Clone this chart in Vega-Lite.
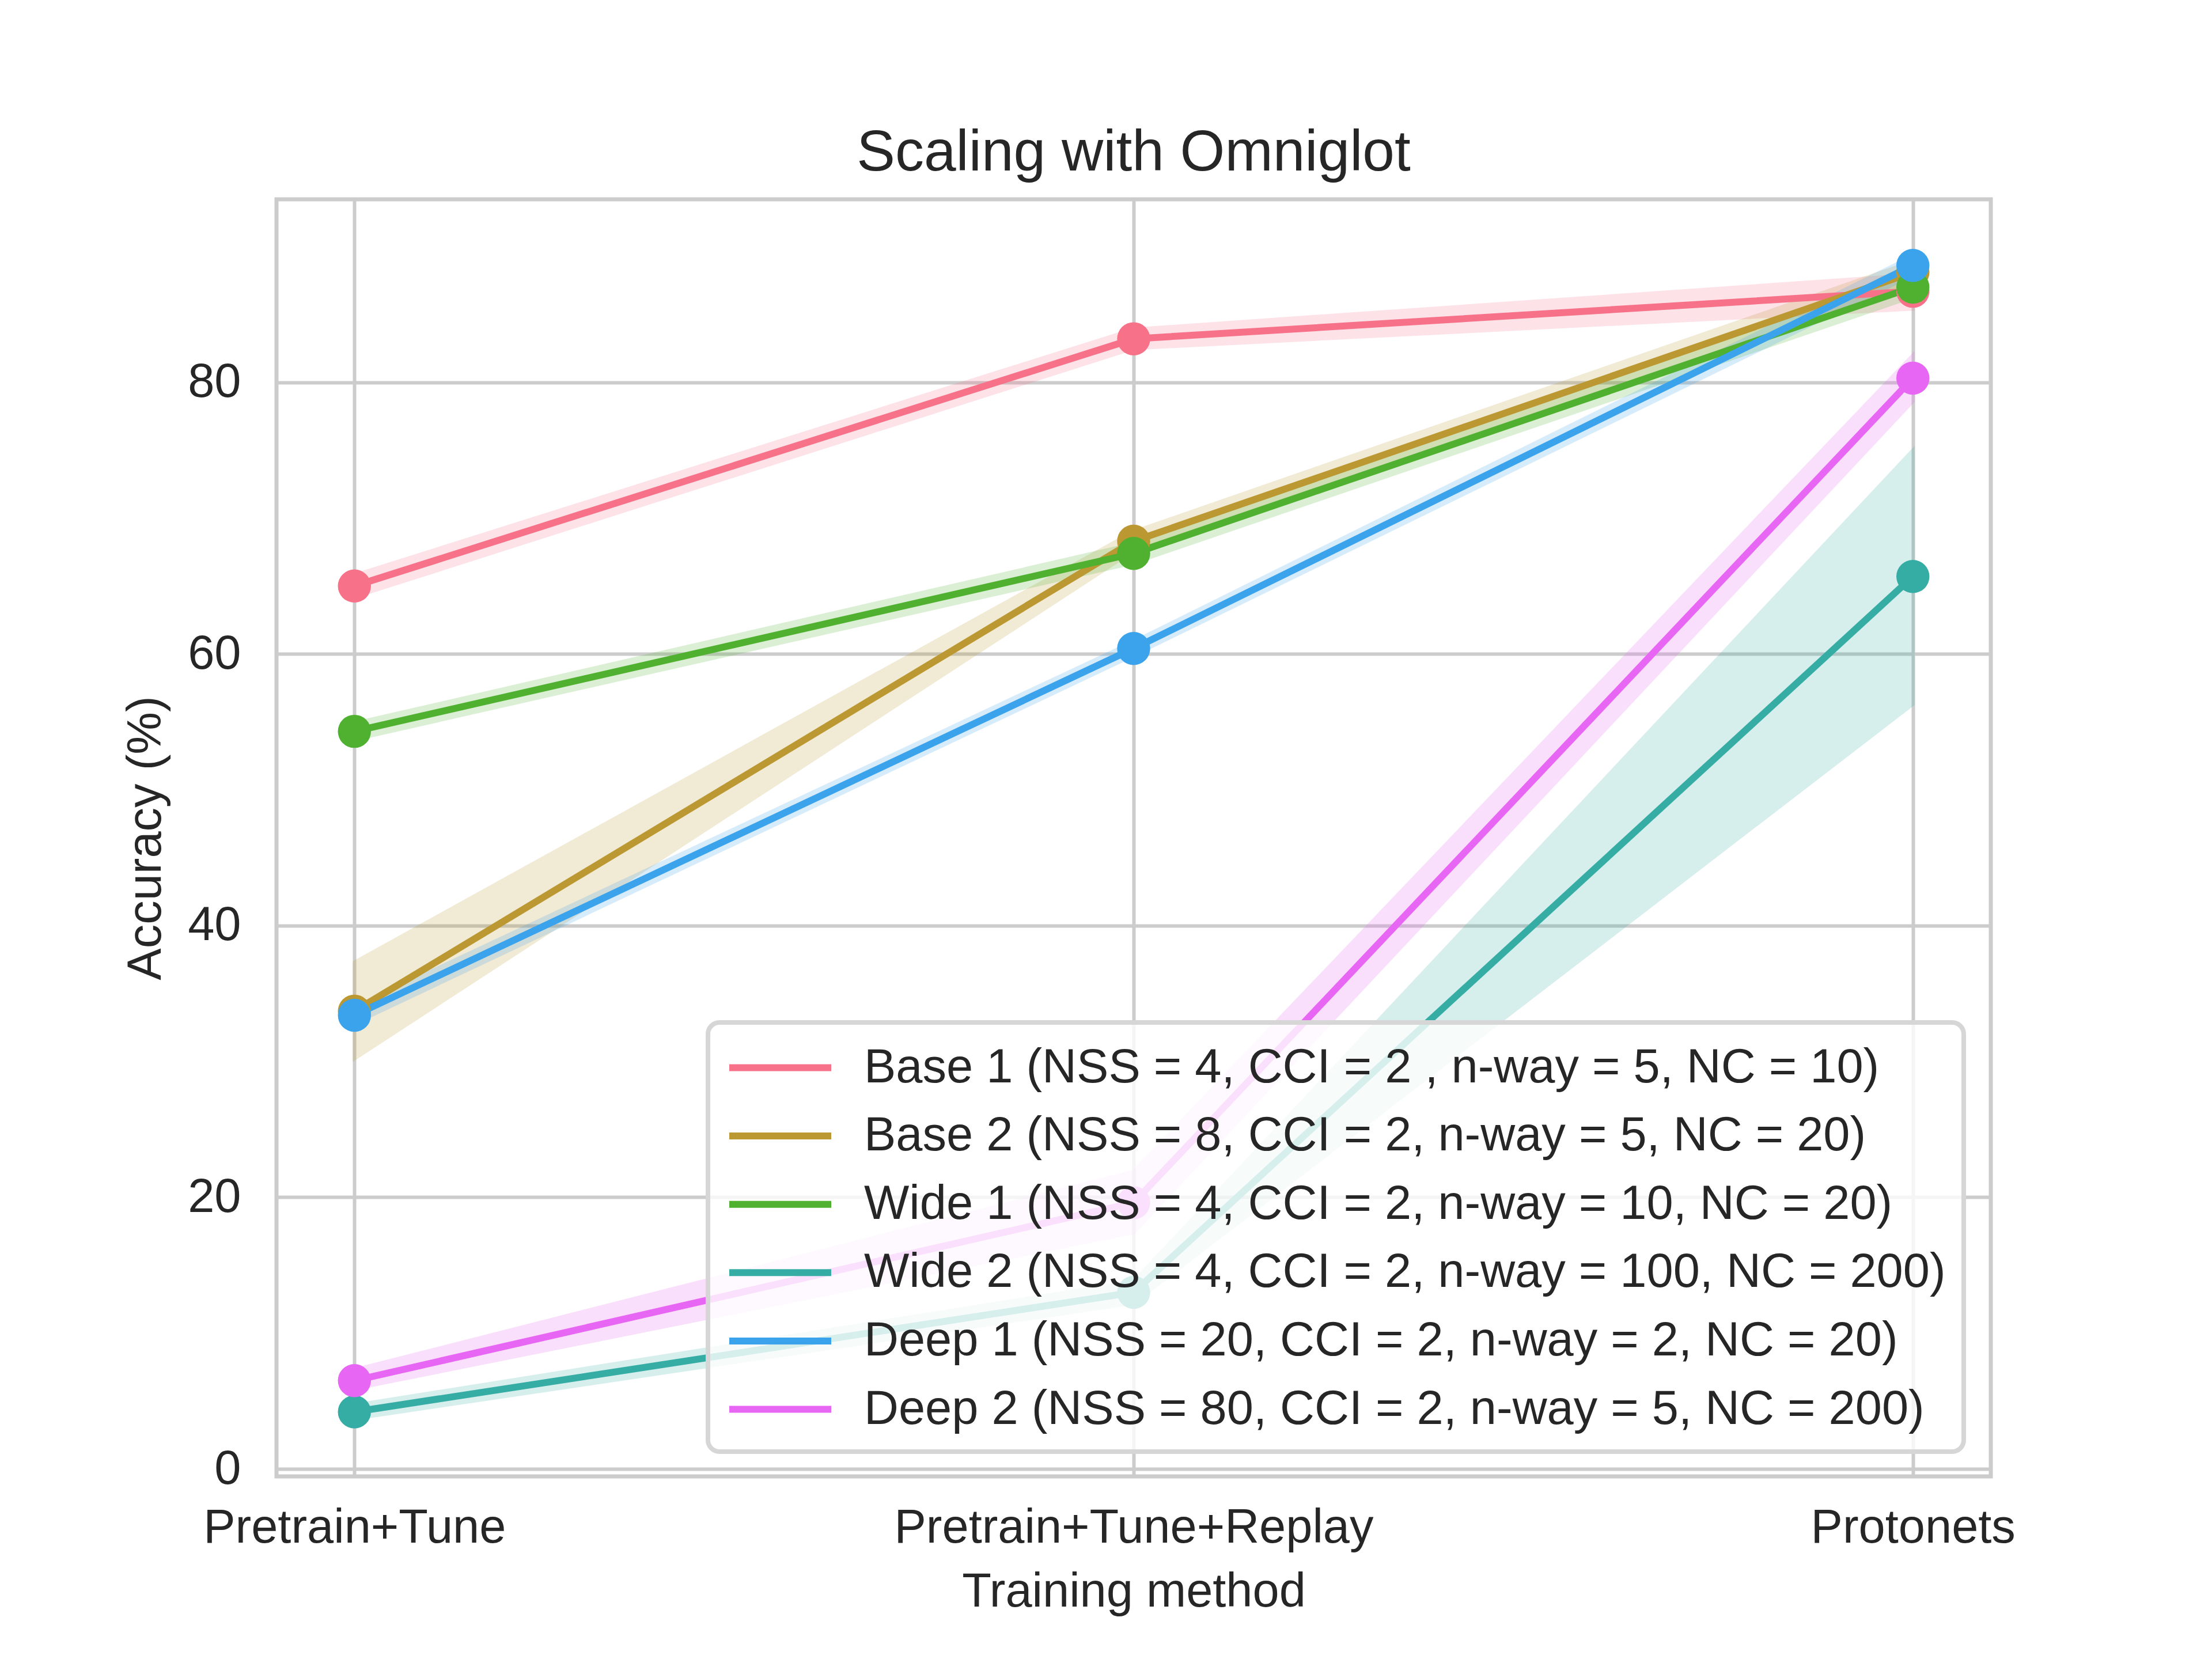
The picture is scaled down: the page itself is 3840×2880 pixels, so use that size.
{
  "$schema": "https://vega.github.io/schema/vega-lite/v6.json",
  "description": "Scaling with Omniglot - accuracy by training method",
  "width": 2976,
  "height": 2217,
  "autosize": {"type": "none"},
  "padding": {"left": 480, "top": 346, "right": 384, "bottom": 317},
  "background": "white",
  "title": {
    "text": "Scaling with Omniglot",
    "fontSize": 100,
    "font": "Liberation Sans",
    "fontWeight": "normal",
    "color": "#262626",
    "anchor": "middle",
    "baseline": "alphabetic",
    "offset": -50
  },
  "config": {
    "font": "Liberation Sans",
    "view": {"stroke": "#cccccc", "strokeWidth": 7},
    "axis": {
      "labelFont": "Liberation Sans",
      "titleFont": "Liberation Sans",
      "labelFontSize": 83,
      "titleFontSize": 83,
      "titleFontWeight": "normal",
      "labelColor": "#262626",
      "titleColor": "#262626",
      "labelLimit": 2000,
      "gridColor": "#cccccc",
      "gridWidth": 6,
      "gridOpacity": 1,
      "domain": false,
      "ticks": false,
      "tickSize": 0
    },
    "legend": {
      "labelFont": "Liberation Sans",
      "labelFontSize": 83,
      "labelColor": "#262626",
      "labelLimit": 3000
    }
  },
  "data": {
    "values": [
      {"method": "Pretrain+Tune", "model": "Base 1 (NSS = 4, CCI = 2 , n-way = 5, NC = 10)", "acc": 65.0, "lo": 64.2, "hi": 65.8},
      {"method": "Pretrain+Tune+Replay", "model": "Base 1 (NSS = 4, CCI = 2 , n-way = 5, NC = 10)", "acc": 83.2, "lo": 82.5, "hi": 83.9},
      {"method": "Protonets", "model": "Base 1 (NSS = 4, CCI = 2 , n-way = 5, NC = 10)", "acc": 86.7, "lo": 85.4, "hi": 87.9},
      {"method": "Pretrain+Tune", "model": "Base 2 (NSS = 8, CCI = 2, n-way = 5, NC = 20)", "acc": 33.7, "lo": 30.2, "hi": 37.3},
      {"method": "Pretrain+Tune+Replay", "model": "Base 2 (NSS = 8, CCI = 2, n-way = 5, NC = 20)", "acc": 68.3, "lo": 67.6, "hi": 69.0},
      {"method": "Protonets", "model": "Base 2 (NSS = 8, CCI = 2, n-way = 5, NC = 20)", "acc": 88.1, "lo": 87.3, "hi": 88.9},
      {"method": "Pretrain+Tune", "model": "Wide 1 (NSS = 4, CCI = 2, n-way = 10, NC = 20)", "acc": 54.3, "lo": 53.7, "hi": 54.9},
      {"method": "Pretrain+Tune+Replay", "model": "Wide 1 (NSS = 4, CCI = 2, n-way = 10, NC = 20)", "acc": 67.4, "lo": 66.7, "hi": 68.1},
      {"method": "Protonets", "model": "Wide 1 (NSS = 4, CCI = 2, n-way = 10, NC = 20)", "acc": 87.0, "lo": 86.3, "hi": 87.7},
      {"method": "Pretrain+Tune", "model": "Wide 2 (NSS = 4, CCI = 2, n-way = 100, NC = 200)", "acc": 4.2, "lo": 3.7, "hi": 4.7},
      {"method": "Pretrain+Tune+Replay", "model": "Wide 2 (NSS = 4, CCI = 2, n-way = 100, NC = 200)", "acc": 13.0, "lo": 12.2, "hi": 13.8},
      {"method": "Protonets", "model": "Wide 2 (NSS = 4, CCI = 2, n-way = 100, NC = 200)", "acc": 65.7, "lo": 56.3, "hi": 75.0},
      {"method": "Pretrain+Tune", "model": "Deep 1 (NSS = 20, CCI = 2, n-way = 2, NC = 20)", "acc": 33.4, "lo": 32.8, "hi": 34.0},
      {"method": "Pretrain+Tune+Replay", "model": "Deep 1 (NSS = 20, CCI = 2, n-way = 2, NC = 20)", "acc": 60.4, "lo": 59.9, "hi": 60.9},
      {"method": "Protonets", "model": "Deep 1 (NSS = 20, CCI = 2, n-way = 2, NC = 20)", "acc": 88.6, "lo": 87.9, "hi": 89.3},
      {"method": "Pretrain+Tune", "model": "Deep 2 (NSS = 80, CCI = 2, n-way = 5, NC = 200)", "acc": 6.5, "lo": 5.9, "hi": 7.3},
      {"method": "Pretrain+Tune+Replay", "model": "Deep 2 (NSS = 80, CCI = 2, n-way = 5, NC = 200)", "acc": 19.6, "lo": 17.4, "hi": 21.9},
      {"method": "Protonets", "model": "Deep 2 (NSS = 80, CCI = 2, n-way = 5, NC = 200)", "acc": 80.3, "lo": 78.6, "hi": 82.0}
    ]
  },
  "encoding": {
    "x": {
      "field": "method",
      "type": "nominal",
      "title": "Training method",
      "sort": ["Pretrain+Tune", "Pretrain+Tune+Replay", "Protonets"],
      "scale": {"type": "point", "padding": 0.1},
      "axis": {"labelAngle": 0, "labelPadding": 48, "titlePadding": 28, "grid": true}
    },
    "color": {
      "field": "model",
      "type": "nominal",
      "scale": {
        "domain": [
          "Base 1 (NSS = 4, CCI = 2 , n-way = 5, NC = 10)",
          "Base 2 (NSS = 8, CCI = 2, n-way = 5, NC = 20)",
          "Wide 1 (NSS = 4, CCI = 2, n-way = 10, NC = 20)",
          "Wide 2 (NSS = 4, CCI = 2, n-way = 100, NC = 200)",
          "Deep 1 (NSS = 20, CCI = 2, n-way = 2, NC = 20)",
          "Deep 2 (NSS = 80, CCI = 2, n-way = 5, NC = 200)"
        ],
        "range": ["#f77189", "#bb9832", "#50b131", "#36ada4", "#3ba3ec", "#e866f4"]
      },
      "legend": {
        "title": null,
        "orient": "none",
        "legendX": 749,
        "legendY": 1429,
        "symbolType": "M-1,0H3.265",
        "symbolSize": 6889,
        "symbolStrokeWidth": 12,
        "symbolOpacity": 1,
        "labelOffset": 145,
        "rowPadding": 28.6,
        "padding": 31,
        "fillColor": "rgba(255,255,255,0.8)",
        "strokeColor": "#d6d6d6",
        "cornerRadius": 20,
        "encode": {"legend": {"update": {"strokeWidth": {"value": 8}}}}
      }
    }
  },
  "layer": [
    {
      "mark": {"type": "area", "opacity": 0.2, "strokeWidth": 6, "strokeOpacity": 1},
      "encoding": {
        "y": {
          "field": "lo",
          "type": "quantitative",
          "title": "Accuracy (%)",
          "scale": {"domain": [-0.55, 93.47], "nice": false, "zero": false},
          "axis": {"values": [0, 20, 40, 60, 80], "labelPadding": 62, "titlePadding": 30, "grid": true}
        },
        "y2": {"field": "hi"},
        "stroke": {
          "field": "model",
          "type": "nominal",
          "legend": null,
          "scale": {
            "domain": [
              "Base 1 (NSS = 4, CCI = 2 , n-way = 5, NC = 10)",
              "Base 2 (NSS = 8, CCI = 2, n-way = 5, NC = 20)",
              "Wide 1 (NSS = 4, CCI = 2, n-way = 10, NC = 20)",
              "Wide 2 (NSS = 4, CCI = 2, n-way = 100, NC = 200)",
              "Deep 1 (NSS = 20, CCI = 2, n-way = 2, NC = 20)",
              "Deep 2 (NSS = 80, CCI = 2, n-way = 5, NC = 200)"
            ],
            "range": ["#f77189", "#bb9832", "#50b131", "#36ada4", "#3ba3ec", "#e866f4"]
          }
        }
      }
    },
    {
      "mark": {"type": "line", "strokeWidth": 12, "strokeCap": "round", "strokeJoin": "round"},
      "encoding": {
        "y": {"field": "acc", "type": "quantitative"}
      }
    },
    {
      "mark": {"type": "point", "filled": true, "opacity": 1, "size": 3300},
      "encoding": {
        "y": {"field": "acc", "type": "quantitative"}
      }
    }
  ]
}
